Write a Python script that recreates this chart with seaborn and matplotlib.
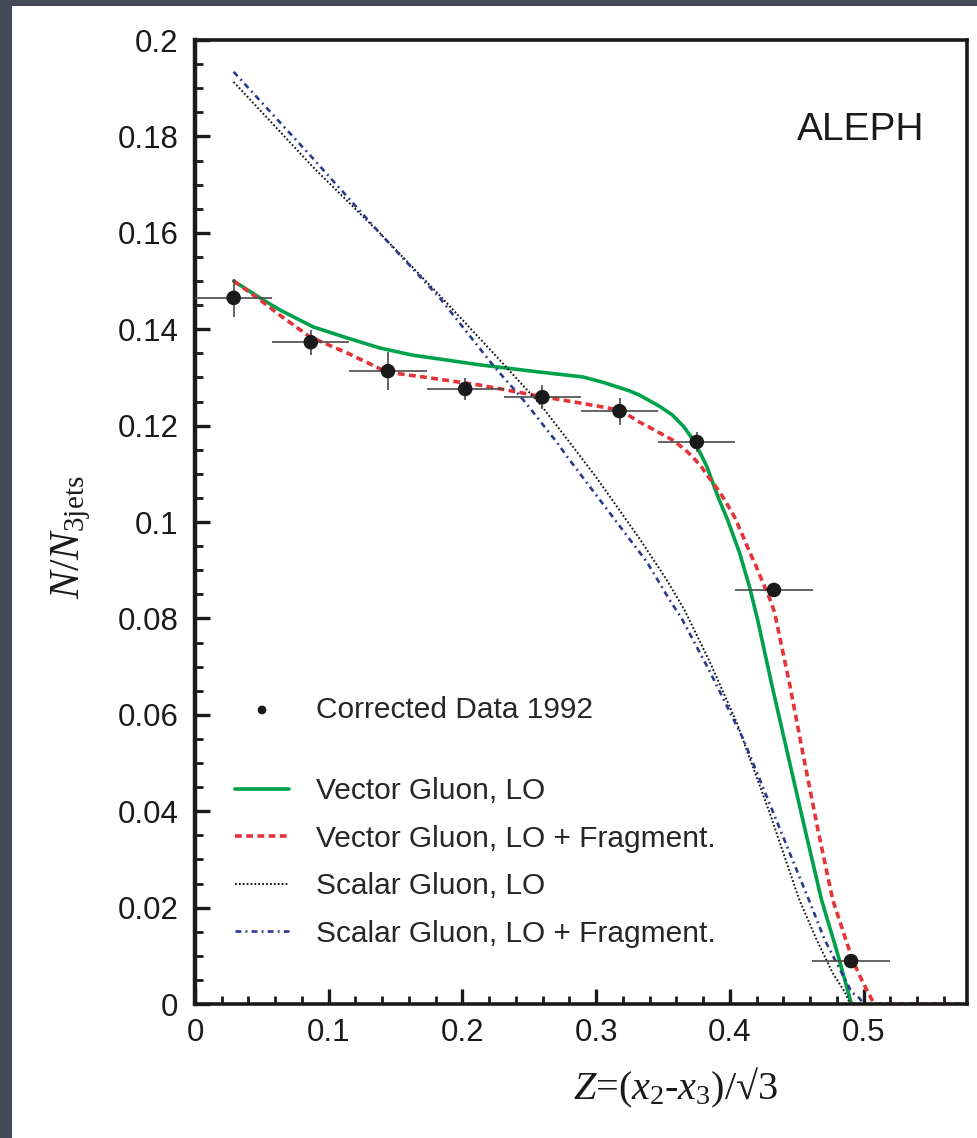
import matplotlib
matplotlib.use("Agg")
import matplotlib.pyplot as plt
import seaborn as sns
from matplotlib.patches import Rectangle
from matplotlib.ticker import MultipleLocator, FormatStrFormatter

# ALEPH 1992 three-jet Z distribution (bin centres of 10 bins over 0..1/sqrt3)
z_data = [0.0289, 0.0866, 0.1443, 0.2021, 0.2598, 0.3175, 0.3753, 0.4330, 0.4907]
n_data = [0.1465, 0.1373, 0.1313, 0.1276, 0.1259, 0.1230, 0.1166, 0.0859, 0.0089]
n_err = [0.0040, 0.0026, 0.0040, 0.0022, 0.0025, 0.0028, 0.0020, 0.0010, 0.0010]
z_halfbin = 0.0289

# model curves
vec_lo_z = [0.0289, 0.0508, 0.0635, 0.0882, 0.1136, 0.1383, 0.163, 0.1883, 0.213, 0.258,
            0.290, 0.305, 0.325, 0.3326, 0.3475, 0.357, 0.3655, 0.3737, 0.3827, 0.3909,
            0.3984, 0.4073, 0.4148, 0.4208, 0.432, 0.444, 0.456, 0.4686, 0.4798, 0.491]
vec_lo_n = [0.1500, 0.1461, 0.1440, 0.1405, 0.1382, 0.1361, 0.1346, 0.1336, 0.1326, 0.1311,
            0.1301, 0.1290, 0.1272, 0.1263, 0.1240, 0.1222, 0.1198, 0.1166, 0.1116, 0.1054,
            0.1004, 0.0936, 0.0865, 0.0797, 0.0655, 0.0510, 0.0365, 0.0216, 0.0112, 0.0]

vec_frag_z = [0.0289, 0.0486, 0.0635, 0.086, 0.1136, 0.1435, 0.1756, 0.213, 0.260, 0.290,
              0.318, 0.3326, 0.3423, 0.3572, 0.3662, 0.3722, 0.3789, 0.3834, 0.3909, 0.3961,
              0.4036, 0.4096, 0.4148, 0.4200, 0.4245, 0.4297, 0.4335, 0.445, 0.455,
              0.466, 0.477, 0.4918, 0.500, 0.508, 0.5774]
vec_frag_n = [0.1500, 0.1461, 0.1429, 0.1384, 0.1351, 0.1311, 0.1299, 0.1284, 0.1260, 0.1246,
              0.1232, 0.1207, 0.1193, 0.1170, 0.1151, 0.1135, 0.1114, 0.1096, 0.1068, 0.1046,
              0.1010, 0.0972, 0.0938, 0.0906, 0.0876, 0.0842, 0.0812, 0.0660, 0.0515,
              0.0360, 0.0216, 0.0091, 0.0042, 0.0, 0.0]

scal_lo_z = [0.0289, 0.088, 0.138, 0.183, 0.228, 0.245, 0.258, 0.2705, 0.2825, 0.300,
             0.3326, 0.3528, 0.366, 0.385, 0.405, 0.430, 0.452, 0.465, 0.477, 0.486, 0.490]
scal_lo_n = [0.1913, 0.1737, 0.1600, 0.1470, 0.1336, 0.1284, 0.1245, 0.1200, 0.1157, 0.1093,
             0.0965, 0.0880, 0.0818, 0.0710, 0.0585, 0.0395, 0.0216, 0.0133, 0.0064, 0.0025, 0.0]

scal_frag_z = [0.0289, 0.088, 0.138, 0.183, 0.2227, 0.233, 0.243, 0.252, 0.2616, 0.2705,
               0.279, 0.288, 0.338, 0.3475, 0.355, 0.364, 0.385, 0.410, 0.435, 0.460,
               0.471, 0.491, 0.497, 0.500]
scal_frag_n = [0.1934, 0.1755, 0.1600, 0.1465, 0.1326, 0.1293, 0.1262, 0.1231, 0.1197, 0.1166,
               0.1133, 0.1100, 0.0917, 0.0873, 0.0838, 0.0800, 0.0690, 0.0550, 0.0380, 0.0210,
               0.0133, 0.0025, 0.0012, 0.0]

sns.set_style("ticks")
plt.rcParams['font.family'] = ['Liberation Sans', 'DejaVu Sans']
plt.rcParams['mathtext.fontset'] = 'custom'
plt.rcParams['mathtext.rm'] = 'Liberation Serif'
plt.rcParams['mathtext.it'] = 'Liberation Serif:italic'

fig = plt.figure(figsize=(9.78, 11.38), dpi=100, facecolor='#454a58')
# white slide panel behind the plot
fig.patches.append(Rectangle((12 / 978, 0), 1, 1 - 6 / 1138, transform=fig.transFigure,
                             facecolor='white', edgecolor='none', zorder=-10))
ax = fig.add_axes([195 / 978, 1 - 1004 / 1138, 772 / 978, 964 / 1138])
ax.set_facecolor('white')

ax.errorbar(z_data, n_data, xerr=z_halfbin, yerr=n_err, fmt='none',
            ecolor='#4a4a4a', elinewidth=1.2, capsize=0, zorder=4)
sns.scatterplot(x=z_data, y=n_data, s=110, color='#1a1a1a', edgecolor='none',
                zorder=5, label='Corrected Data 1992', ax=ax)

sns.lineplot(x=vec_lo_z, y=vec_lo_n, color='#00a14b', lw=2.6, sort=False, estimator=None,
             label='Vector Gluon, LO', ax=ax)
sns.lineplot(x=vec_frag_z, y=vec_frag_n, color='#e3343a', lw=2.6, sort=False, estimator=None,
             linestyle=(0, (1.9, 1.2)), label='Vector Gluon, LO + Fragment.', ax=ax)
sns.lineplot(x=scal_lo_z, y=scal_lo_n, color='#111111', lw=1.4, sort=False, estimator=None,
             linestyle=(0, (0.9, 1.1)), label='Scalar Gluon, LO', ax=ax)
sns.lineplot(x=scal_frag_z, y=scal_frag_n, color='#2b3a8c', lw=1.9, sort=False, estimator=None,
             linestyle=(0, (2.2, 1.6, 0.7, 1.6)), label='Scalar Gluon, LO + Fragment.', ax=ax)

handles, labels = ax.get_legend_handles_labels()
ax.get_legend().remove()
leg1 = ax.legend(handles[:1], labels[:1], loc='upper left', bbox_to_anchor=(0.052, 0.3197),
                 frameon=False, fontsize=21.5, handlelength=1.8, handletextpad=0.9,
                 borderpad=0, borderaxespad=0, markerscale=0.6)
ax.add_artist(leg1)
ax.legend(handles[1:], labels[1:], loc='upper left', bbox_to_anchor=(0.052, 0.235),
          frameon=False, fontsize=21.5, handlelength=1.8, handletextpad=0.9,
          borderpad=0, borderaxespad=0, labelspacing=0.65)

ax.text(0.78, 0.896, 'ALEPH', transform=ax.transAxes, fontsize=28, color='#1a1a1a',
        va='baseline', ha='left')

ax.set_xlim(0, 0.5774)
ax.set_ylim(0, 0.2)
ax.xaxis.set_major_locator(MultipleLocator(0.1))
ax.xaxis.set_minor_locator(MultipleLocator(0.02))
ax.yaxis.set_major_locator(MultipleLocator(0.02))
ax.yaxis.set_minor_locator(MultipleLocator(0.005))
ax.xaxis.set_major_formatter(FormatStrFormatter('%g'))
ax.yaxis.set_major_formatter(FormatStrFormatter('%g'))
ax.tick_params(which='both', direction='in', top=False, right=False, color='#1a1a1a',
               labelcolor='#1a1a1a', labelsize=22.5)
ax.tick_params(which='major', length=11, width=2.4)
ax.tick_params(which='minor', length=6, width=2.0)
ax.tick_params(axis='y', pad=12)
ax.tick_params(axis='x', pad=10)
for side in ['left', 'right', 'top', 'bottom']:
    ax.spines[side].set_visible(True)
    ax.spines[side].set_linewidth(2.6)
    ax.spines[side].set_color('#1a1a1a')
ax.spines['left'].set_linewidth(3.2)

ax.set_xlabel(r'$Z$=($x_2$-$x_3$)/√3', fontsize=29, family=['Liberation Serif', 'DejaVu Serif'],
              color='#1a1a1a')
ax.xaxis.set_label_coords(0.623, -0.064)
ax.set_ylabel(r'$N/N_{\mathrm{3jets}}$', fontsize=30, color='#1a1a1a')
ax.yaxis.set_label_coords(-0.132, 0.4845)

fig.savefig('out.png', dpi=100, facecolor=fig.get_facecolor())
